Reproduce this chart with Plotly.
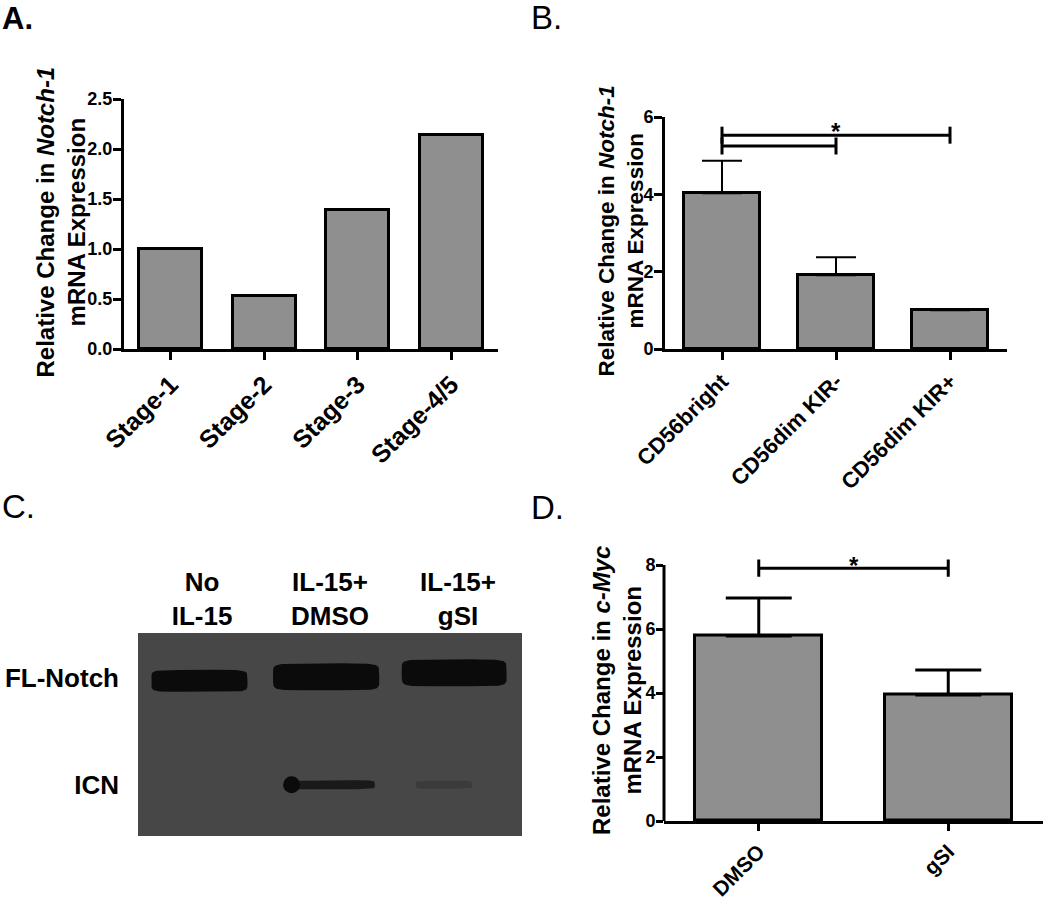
import numpy as np
import plotly.graph_objects as go

W, H = 1050, 899
FONT = "Liberation Sans, Arial, Helvetica, sans-serif"
BAR_GREY = "#8f8f8f"
BLOT_BG = "#474747"
BAND_DARK = "#0b0b0b"

# --- A. Notch-1 by developmental stage ---
stages = ["Stage-1", "Stage-2", "Stage-3", "Stage-4/5"]
stage_notch1 = [1.0, 0.53, 1.39, 2.14]

# --- B. Notch-1 by CD56 subset ---
subsets = ["CD56bright", "CD56dim KIR-", "CD56dim KIR+"]
subset_notch1 = [4.03, 1.91, 1.0]
subset_err = [0.84, 0.46, 0.0]
subset_sig_pairs = [(0, 2), (0, 1)]
subset_sig_y = [5.53, 5.25]

# --- C. western blot ---
lanes = ["No<br>IL-15", "IL-15+<br>DMSO", "IL-15+<br>gSI"]
blot_rows = ["FL-Notch", "ICN"]
fl_notch_signal = [1.0, 1.0, 1.0]
icn_signal = [0.0, 0.85, 0.22]

# --- D. c-Myc with gamma-secretase inhibitor ---
treatments = ["DMSO", "gSI"]
myc = [5.78, 3.94]
myc_err = [1.19, 0.78]
myc_sig_pairs = [(0, 1)]
myc_sig_y = [7.9]


def xd(a, b):
    return [a / W, b / W]


def yd(top, bottom):
    return [1 - bottom / H, 1 - top / H]


def mix(c1, c2, t):
    a = [int(c1[i:i + 2], 16) for i in (1, 3, 5)]
    b = [int(c2[i:i + 2], 16) for i in (1, 3, 5)]
    return "#" + "".join(f"{round(x + (y - x) * t):02x}" for x, y in zip(a, b))


def bracket(pairs, ys, h):
    xs, yv = [], []
    for (a, b), y in zip(pairs, ys):
        xs += [a, a, None, a, b, None, b, b, None]
        yv += [y - h, y + h, None, y, y, None, y - h, y + h, None]
    return xs, yv


def band(cx, cy, hw, hh, n=7):
    t = np.linspace(0, 2 * np.pi, 90)
    c, s = np.cos(t), np.sin(t)
    return (cx + hw * np.sign(c) * np.abs(c) ** (2 / n),
            cy + hh * np.sign(s) * np.abs(s) ** (2 / n))


tick_font = dict(family=FONT, size=18, color="black", weight="bold")
axis_common = dict(showline=True, linecolor="black", linewidth=3, ticks="outside",
                   tickcolor="black", tickwidth=3, ticklen=8, showgrid=False,
                   zeroline=False, automargin=False, fixedrange=True)

fig = go.Figure()

# A
fig.add_trace(go.Bar(x=list(range(len(stages))), y=stage_notch1, width=0.67,
                     marker=dict(color=BAR_GREY, line=dict(color="black", width=3)),
                     xaxis="x", yaxis="y"))

# B
fig.add_trace(go.Bar(x=list(range(len(subsets))), y=subset_notch1, width=0.67,
                     marker=dict(color=BAR_GREY, line=dict(color="black", width=3)),
                     error_y=dict(type="data", array=subset_err, arrayminus=[0] * 3,
                                  symmetric=False, color="black", thickness=2, width=20),
                     xaxis="x2", yaxis="y2"))
bx, by = bracket(subset_sig_pairs, subset_sig_y, 0.22)
fig.add_trace(go.Scatter(x=bx, y=by, mode="lines", line=dict(color="black", width=3),
                         xaxis="x2", yaxis="y2", hoverinfo="skip"))

# C: blot bands
unit = 203 / 1.9  # px per y unit on the blot axis
fl_hw = [0.375, 0.415, 0.41]
fl_hpx = [22, 27, 27]
fl_dx = [-0.02, -0.03, -0.03]
fl_dy = [-3, 1, 5]
for i, sig in enumerate(fl_notch_signal):
    bxs, bys = band(i + fl_dx[i], 1 + fl_dy[i] / unit, fl_hw[i], fl_hpx[i] / 2 / unit)
    fig.add_trace(go.Scatter(x=bxs, y=bys, fill="toself", mode="lines",
                             fillcolor=mix(BLOT_BG, BAND_DARK, sig), line=dict(width=0),
                             xaxis="x3", yaxis="y3", hoverinfo="skip"))
icn_hw = [0.3, 0.35, 0.22]
icn_hpx = [8, 9, 8]
icn_dx = [0, 0, -0.11]
for i, sig in enumerate(icn_signal):
    if sig <= 0:
        continue
    bxs, bys = band(i + icn_dx[i], 0, icn_hw[i], icn_hpx[i] / 2 / unit)
    fig.add_trace(go.Scatter(x=bxs, y=bys, fill="toself", mode="lines",
                             fillcolor=mix(BLOT_BG, BAND_DARK, sig * 0.9), line=dict(width=0),
                             xaxis="x3", yaxis="y3", hoverinfo="skip"))
    if sig > 0.5:
        fig.add_trace(go.Scatter(x=[i + icn_dx[i] - icn_hw[i] + 0.05], y=[0], mode="markers",
                                 marker=dict(size=17, color=BAND_DARK, line=dict(width=0)),
                                 xaxis="x3", yaxis="y3", hoverinfo="skip"))

# D
fig.add_trace(go.Bar(x=list(range(len(treatments))), y=myc, width=0.67,
                     marker=dict(color=BAR_GREY, line=dict(color="black", width=3)),
                     error_y=dict(type="data", array=myc_err, arrayminus=[0] * 2,
                                  symmetric=False, color="black", thickness=3, width=33),
                     xaxis="x4", yaxis="y4"))
dx_, dy_ = bracket(myc_sig_pairs, myc_sig_y, 0.27)
fig.add_trace(go.Scatter(x=dx_, y=dy_, mode="lines", line=dict(color="black", width=3),
                         xaxis="x4", yaxis="y4", hoverinfo="skip"))

d_top = 8.45  # headroom so the bracket is not clipped; spine drawn to 8 below

fig.update_layout(
    width=W, height=H, margin=dict(l=0, r=0, t=0, b=0),
    paper_bgcolor="white", plot_bgcolor="white", showlegend=False, bargap=0,
    font=dict(family=FONT, color="black"),
    xaxis=dict(axis_common, domain=xd(124, 498), anchor="y", range=[-0.5, 3.5],
               tickvals=list(range(4)), ticktext=stages, tickangle=-45,
               tickfont=dict(tick_font, size=25)),
    yaxis=dict(axis_common, domain=yd(99, 349), anchor="x", range=[0, 2.5],
               dtick=0.5, tickformat=".1f", tickfont=tick_font, ticklabelstandoff=-3),
    xaxis2=dict(axis_common, domain=xd(665, 1007), anchor="y2", range=[-0.5, 2.5],
                tickvals=list(range(3)), ticktext=subsets, tickangle=-45,
                tickfont=dict(tick_font, size=22)),
    yaxis2=dict(axis_common, domain=yd(117, 349), anchor="x2", range=[0, 6],
                dtick=2, tickfont=tick_font, ticklabelstandoff=-3),
    xaxis3=dict(domain=xd(138, 522), anchor="y3", range=[-0.5, 2.5], side="top",
                tickvals=list(range(3)), ticktext=lanes, ticks="", showline=False,
                showgrid=False, zeroline=False, automargin=False, fixedrange=True,
                ticklabelstandoff=2, tickfont=dict(tick_font, size=26)),
    yaxis3=dict(domain=yd(633, 836), anchor="x3", range=[-0.48, 1.42],
                tickvals=[len(blot_rows) - 1 - i for i in range(len(blot_rows))],
                ticktext=blot_rows, ticks="", showline=False, showgrid=False,
                zeroline=False, automargin=False, fixedrange=True,
                ticklabelstandoff=18, tickfont=dict(tick_font, size=26)),
    xaxis4=dict(axis_common, domain=xd(664, 1043), anchor="y4", range=[-0.5, 1.5],
                tickvals=list(range(2)), ticktext=treatments, tickangle=-45, ticklen=7,
                tickfont=dict(tick_font, size=21)),
    yaxis4=dict(axis_common, domain=yd(821 - 32 * d_top, 821), anchor="x4",
                range=[0, d_top], tickvals=[0, 2, 4, 6, 8], showline=False, ticklen=7,
                tickfont=tick_font, ticklabelstandoff=-3),
)

fig.add_shape(type="rect", xref="x3 domain", yref="y3 domain", x0=0, x1=1, y0=0, y1=1,
              fillcolor=BLOT_BG, line=dict(width=0), layer="below")
fig.add_shape(type="line", xref="x4 domain", yref="y4", x0=0, x1=0, y0=0, y1=8,
              line=dict(color="black", width=3))

# panel letters
for txt, x, y, size in [("<b>A.</b>", 0, 18.5, 31), ("B.", 529, 18, 33),
                        ("C.", 0, 506.5, 33), ("D.", 529, 507.5, 33)]:
    fig.add_annotation(text=txt, x=x / W, y=1 - y / H, xref="paper", yref="paper",
                       xanchor="left", yanchor="middle", showarrow=False,
                       font=dict(family=FONT, size=size, color="black"))

# y titles
for txt, x, y, size in [
    ("<b>Relative Change in <i>Notch-1</i><br>mRNA Expression</b>", 60.5, 222, 24),
    ("<b>Relative Change in <i>Notch-1</i><br>mRNA Expression</b>", 620.5, 231, 22.5),
    ("<b>Relative Change in <i>c-Myc</i><br>mRNA Expression</b>", 617, 691, 24),
]:
    fig.add_annotation(text=txt, x=x / W, y=1 - y / H, xref="paper", yref="paper",
                       xanchor="center", yanchor="middle", textangle=-90, showarrow=False,
                       font=dict(family=FONT, size=size, color="black"))

# significance stars
fig.add_annotation(text="<b>*</b>", x=1, y=subset_sig_y[0], xref="x2", yref="y2",
                   yanchor="middle", yshift=4, showarrow=False,
                   font=dict(family=FONT, size=24, color="black"))
fig.add_annotation(text="<b>*</b>", x=0.5, y=myc_sig_y[0], xref="x4", yref="y4",
                   yanchor="middle", yshift=3, showarrow=False,
                   font=dict(family=FONT, size=24, color="black"))

fig.write_html("out.html", config={"displayModeBar": False},
               post_script="document.body.style.margin='0';")
